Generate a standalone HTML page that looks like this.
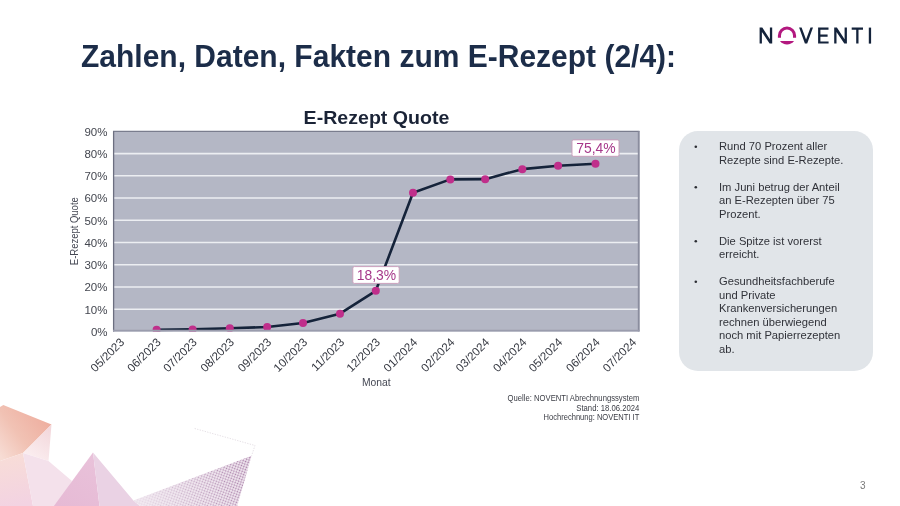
<!DOCTYPE html>
<html><head><meta charset="utf-8">
<style>
html,body{margin:0;padding:0;background:#fff;}
body{width:900px;height:506px;overflow:hidden;position:relative;font-family:"Liberation Sans",sans-serif;}
svg{position:absolute;left:0;top:0;will-change:transform;}
svg text{font-family:"Liberation Sans",sans-serif;}
.title{will-change:transform;transform:scaleY(1.03);transform-origin:0 29.4px;position:absolute;left:81px;top:37.2px;font-size:30px;font-weight:bold;color:#1c2d49;white-space:nowrap;line-height:40px;}
.box{position:absolute;left:679px;top:131.3px;width:194px;height:239.5px;border-radius:19px;background:#e1e5e9;}
.txt{position:absolute;left:0;top:0;font-size:11.2px;line-height:13.5px;color:#2a2c33;}
.b{position:absolute;left:695px;font-size:11.2px;color:#2a2c33;}
.pg{position:absolute;left:860px;top:479.5px;font-size:10px;color:#7a7a7a;}
</style></head><body>
<svg width="900" height="506" viewBox="0 0 900 506">
<defs>
<clipPath id="pc"><rect x="113" y="131.3" width="526.5" height="200.2"/></clipPath>
</defs>
<rect x="113.0" y="131.3" width="526.5" height="200.2" fill="#b4b7c5"/>
<line x1="113.0" y1="309.26" x2="639.5" y2="309.26" stroke="#eceef2" stroke-width="1.6"/>
<line x1="113.0" y1="287.02" x2="639.5" y2="287.02" stroke="#eceef2" stroke-width="1.6"/>
<line x1="113.0" y1="264.78" x2="639.5" y2="264.78" stroke="#eceef2" stroke-width="1.6"/>
<line x1="113.0" y1="242.54" x2="639.5" y2="242.54" stroke="#eceef2" stroke-width="1.6"/>
<line x1="113.0" y1="220.30" x2="639.5" y2="220.30" stroke="#eceef2" stroke-width="1.6"/>
<line x1="113.0" y1="198.06" x2="639.5" y2="198.06" stroke="#eceef2" stroke-width="1.6"/>
<line x1="113.0" y1="175.82" x2="639.5" y2="175.82" stroke="#eceef2" stroke-width="1.6"/>
<line x1="113.0" y1="153.58" x2="639.5" y2="153.58" stroke="#eceef2" stroke-width="1.6"/>
<line x1="113.0" y1="131.3" x2="639.5" y2="131.3" stroke="#7a7d8e" stroke-width="1.2"/>
<line x1="113.6" y1="131.3" x2="113.6" y2="331.5" stroke="#6c6f80" stroke-width="1.3"/>
<line x1="638.7" y1="131.3" x2="638.7" y2="331.5" stroke="#8a8d9e" stroke-width="1.8"/>
<text x="107.5" y="335.90" text-anchor="end" font-size="11.5" fill="#43464f">0%</text>
<text x="107.5" y="313.66" text-anchor="end" font-size="11.5" fill="#43464f">10%</text>
<text x="107.5" y="291.42" text-anchor="end" font-size="11.5" fill="#43464f">20%</text>
<text x="107.5" y="269.18" text-anchor="end" font-size="11.5" fill="#43464f">30%</text>
<text x="107.5" y="246.94" text-anchor="end" font-size="11.5" fill="#43464f">40%</text>
<text x="107.5" y="224.70" text-anchor="end" font-size="11.5" fill="#43464f">50%</text>
<text x="107.5" y="202.46" text-anchor="end" font-size="11.5" fill="#43464f">60%</text>
<text x="107.5" y="180.22" text-anchor="end" font-size="11.5" fill="#43464f">70%</text>
<text x="107.5" y="157.98" text-anchor="end" font-size="11.5" fill="#43464f">80%</text>
<text x="107.5" y="135.74" text-anchor="end" font-size="11.5" fill="#43464f">90%</text>
<g clip-path="url(#pc)">
<polyline points="156.60,329.83 192.60,329.39 229.80,328.28 267.20,327.05 303.00,323.05 340.00,313.71 375.80,290.80 413.00,192.72 450.30,179.38 485.20,179.16 522.30,169.15 558.10,165.81 595.50,163.81" fill="none" stroke="#15233a" stroke-width="2.6" stroke-linejoin="round"/>
<circle cx="156.60" cy="329.83" r="4.0" fill="#c02f8b"/>
<circle cx="192.60" cy="329.39" r="4.0" fill="#c02f8b"/>
<circle cx="229.80" cy="328.28" r="4.0" fill="#c02f8b"/>
<circle cx="267.20" cy="327.05" r="4.0" fill="#c02f8b"/>
<circle cx="303.00" cy="323.05" r="4.0" fill="#c02f8b"/>
<circle cx="340.00" cy="313.71" r="4.0" fill="#c02f8b"/>
<circle cx="375.80" cy="290.80" r="4.0" fill="#c02f8b"/>
<circle cx="413.00" cy="192.72" r="4.0" fill="#c02f8b"/>
<circle cx="450.30" cy="179.38" r="4.0" fill="#c02f8b"/>
<circle cx="485.20" cy="179.16" r="4.0" fill="#c02f8b"/>
<circle cx="522.30" cy="169.15" r="4.0" fill="#c02f8b"/>
<circle cx="558.10" cy="165.81" r="4.0" fill="#c02f8b"/>
<circle cx="595.50" cy="163.81" r="4.0" fill="#c02f8b"/>
</g>
<line x1="113.0" y1="330.6" x2="639.5" y2="330.6" stroke="#9a9cad" stroke-width="1.6"/>
<rect x="352.8" y="266.6" width="46.39999999999998" height="16.799999999999955" rx="1.5" fill="#ffffff" stroke="#c99ab9" stroke-width="0.9"/>
<text x="376.50" y="280.40" text-anchor="middle" font-size="13.9" fill="#a6378a">18,3%</text>
<rect x="572.0" y="139.9" width="47.0" height="16.400000000000006" rx="1.5" fill="#ffffff" stroke="#c99ab9" stroke-width="0.9"/>
<text x="596.00" y="153.30" text-anchor="middle" font-size="13.9" fill="#a6378a">75,4%</text>
<text x="125.00" y="343.00" text-anchor="end" font-size="11.6" fill="#33363f" transform="rotate(-45 125.00 343.00)">05/2023</text>
<text x="161.60" y="343.00" text-anchor="end" font-size="11.6" fill="#33363f" transform="rotate(-45 161.60 343.00)">06/2023</text>
<text x="197.60" y="343.00" text-anchor="end" font-size="11.6" fill="#33363f" transform="rotate(-45 197.60 343.00)">07/2023</text>
<text x="234.80" y="343.00" text-anchor="end" font-size="11.6" fill="#33363f" transform="rotate(-45 234.80 343.00)">08/2023</text>
<text x="272.20" y="343.00" text-anchor="end" font-size="11.6" fill="#33363f" transform="rotate(-45 272.20 343.00)">09/2023</text>
<text x="308.00" y="343.00" text-anchor="end" font-size="11.6" fill="#33363f" transform="rotate(-45 308.00 343.00)">10/2023</text>
<text x="345.00" y="343.00" text-anchor="end" font-size="11.6" fill="#33363f" transform="rotate(-45 345.00 343.00)">11/2023</text>
<text x="380.80" y="343.00" text-anchor="end" font-size="11.6" fill="#33363f" transform="rotate(-45 380.80 343.00)">12/2023</text>
<text x="418.00" y="343.00" text-anchor="end" font-size="11.6" fill="#33363f" transform="rotate(-45 418.00 343.00)">01/2024</text>
<text x="455.30" y="343.00" text-anchor="end" font-size="11.6" fill="#33363f" transform="rotate(-45 455.30 343.00)">02/2024</text>
<text x="490.20" y="343.00" text-anchor="end" font-size="11.6" fill="#33363f" transform="rotate(-45 490.20 343.00)">03/2024</text>
<text x="527.30" y="343.00" text-anchor="end" font-size="11.6" fill="#33363f" transform="rotate(-45 527.30 343.00)">04/2024</text>
<text x="563.10" y="343.00" text-anchor="end" font-size="11.6" fill="#33363f" transform="rotate(-45 563.10 343.00)">05/2024</text>
<text x="600.50" y="343.00" text-anchor="end" font-size="11.6" fill="#33363f" transform="rotate(-45 600.50 343.00)">06/2024</text>
<text x="637.05" y="343.00" text-anchor="end" font-size="11.6" fill="#33363f" transform="rotate(-45 637.05 343.00)">07/2024</text>
<text x="362" y="385.7" font-size="11" textLength="28.7" lengthAdjust="spacingAndGlyphs" fill="#454854">Monat</text>
<text x="0" y="0" font-size="11" textLength="68" lengthAdjust="spacingAndGlyphs" fill="#454854" transform="translate(78.2 265.2) rotate(-90)">E-Rezept Quote</text>
<text x="303.6" y="124" font-size="18.6" font-weight="bold" textLength="145.8" lengthAdjust="spacingAndGlyphs" fill="#1a2336">E-Rezept Quote</text>
<text x="639.3" y="400.7" text-anchor="end" font-size="9" textLength="131.7" lengthAdjust="spacingAndGlyphs" fill="#3a3c44">Quelle: NOVENTI Abrechnungssystem</text>
<text x="639.3" y="410.7" text-anchor="end" font-size="9" textLength="63" lengthAdjust="spacingAndGlyphs" fill="#3a3c44">Stand: 18.06.2024</text>
<text x="639.3" y="420.2" text-anchor="end" font-size="9" textLength="95.7" lengthAdjust="spacingAndGlyphs" fill="#3a3c44">Hochrechnung: NOVENTI IT</text>
</svg>
<div class="title">Zahlen, Daten, Fakten zum E-Rezept (2/4):</div>
<div class="box"></div>
<svg width="900" height="506" viewBox="0 0 900 506">
<text x="719" y="150.30" font-size="11.2" fill="#303239">Rund 70 Prozent aller</text>
<circle cx="695.8" cy="146.70" r="1.3" fill="#2b2d33"/>
<text x="719" y="163.80" font-size="11.2" fill="#303239">Rezepte sind E-Rezepte.</text>
<text x="719" y="190.80" font-size="11.2" fill="#303239">Im Juni betrug der Anteil</text>
<circle cx="695.8" cy="187.20" r="1.3" fill="#2b2d33"/>
<text x="719" y="204.30" font-size="11.2" fill="#303239">an E-Rezepten über 75</text>
<text x="719" y="217.80" font-size="11.2" fill="#303239">Prozent.</text>
<text x="719" y="244.80" font-size="11.2" fill="#303239">Die Spitze ist vorerst</text>
<circle cx="695.8" cy="241.20" r="1.3" fill="#2b2d33"/>
<text x="719" y="258.30" font-size="11.2" fill="#303239">erreicht.</text>
<text x="719" y="285.30" font-size="11.2" fill="#303239">Gesundheitsfachberufe</text>
<circle cx="695.8" cy="281.70" r="1.3" fill="#2b2d33"/>
<text x="719" y="298.80" font-size="11.2" fill="#303239">und Private</text>
<text x="719" y="312.30" font-size="11.2" fill="#303239">Krankenversicherungen</text>
<text x="719" y="325.80" font-size="11.2" fill="#303239">rechnen überwiegend</text>
<text x="719" y="339.30" font-size="11.2" fill="#303239">noch mit Papierrezepten</text>
<text x="719" y="352.80" font-size="11.2" fill="#303239">ab.</text>
<g fill="#14233b">
<polygon points="759.6,43.6 759.6,27.5 762.3,27.5 769.9,39.2 769.9,27.5 772.2,27.5 772.2,43.6 769.6,43.6 761.9,31.9 761.9,43.6"/>
<polygon points="799.1,27.6 801.6,27.6 806.05,39.6 810.5,27.6 813.0,27.6 807.2,43.6 804.9,43.6"/>
<polygon points="818.1,27.6 828.5,27.6 828.5,29.8 820.4,29.8 820.4,34.6 827.6,34.6 827.6,36.8 820.4,36.8 820.4,41.4 828.6,41.4 828.6,43.6 818.1,43.6"/>
<polygon points="834.2,43.6 834.2,27.5 836.9,27.5 844.6,39.2 844.6,27.5 846.9,27.5 846.9,43.6 844.3,43.6 836.5,31.9 836.5,43.6"/>
<polygon points="851.7,27.6 863.0,27.6 863.0,29.8 858.5,29.8 858.5,43.6 856.2,43.6 856.2,29.8 851.7,29.8"/>
<rect x="868.8" y="27.6" width="2.3" height="16.0"/>
</g>
<path d="M779.45 37.7 V35.6 A7.55 7.55 0 0 1 794.55 35.6 V37.7" fill="none" stroke="#b3187f" stroke-width="3.1"/>
<path d="M779.9 41.0 H794.1 A9.1 9.1 0 0 1 779.9 41.0 Z" fill="#b3187f"/>

<defs>
<linearGradient id="g1" gradientUnits="userSpaceOnUse" x1="50" y1="422" x2="2" y2="458">
<stop offset="0" stop-color="#eeae9f"/><stop offset="0.55" stop-color="#f1c2b4"/><stop offset="1" stop-color="#f7dcd4"/>
</linearGradient>
<linearGradient id="g2" gradientUnits="userSpaceOnUse" x1="0" y1="455" x2="10" y2="506">
<stop offset="0" stop-color="#f8ddd7"/><stop offset="1" stop-color="#f3d3e2"/>
</linearGradient>
<linearGradient id="g3" gradientUnits="userSpaceOnUse" x1="50" y1="430" x2="30" y2="458">
<stop offset="0" stop-color="#f3d8dc"/><stop offset="1" stop-color="#fbeef0"/>
</linearGradient>
<linearGradient id="g4" gradientUnits="userSpaceOnUse" x1="140" y1="500" x2="251" y2="470">
<stop offset="0" stop-color="#f1e6ef"/><stop offset="1" stop-color="#d3b6d2"/>
</linearGradient>
<linearGradient id="g5" gradientUnits="userSpaceOnUse" x1="95" y1="452" x2="60" y2="506">
<stop offset="0" stop-color="#e9c2da"/><stop offset="1" stop-color="#e6bad5"/>
</linearGradient>
</defs>
<polygon points="0,407 3.3,404.9 51.5,424.6 23,453 0,461" fill="url(#g1)"/>
<polygon points="0,461 23,453 33,506 0,506" fill="url(#g2)"/>
<polygon points="51.5,424.6 48.5,461 23,453" fill="url(#g3)"/>
<polygon points="23,453 48.5,461 72,481 58,506 33,506" fill="#f4e1eb"/>
<polygon points="93,452.4 53.9,506 99.5,506" fill="url(#g5)"/>
<polygon points="93,452.4 133.4,500.6 140,506 99.5,506" fill="#ead2e4"/>
<pattern id="dots" width="2.6" height="2.6" patternUnits="userSpaceOnUse" patternTransform="rotate(20)">
<circle cx="1.3" cy="1.3" r="0.85" fill="#a072a0"/></pattern>
<linearGradient id="gm" gradientUnits="userSpaceOnUse" x1="140" y1="500" x2="251" y2="470">
<stop offset="0" stop-color="#fff" stop-opacity="0.15"/><stop offset="1" stop-color="#fff" stop-opacity="1"/></linearGradient>
<mask id="mm"><polygon points="133.4,500.6 251.6,455.7 237.2,506 140,506" fill="url(#gm)"/></mask>
<polygon points="133.4,500.6 251.6,455.7 237.2,506 140,506" fill="#f3ebf2"/>
<rect x="130" y="450" width="125" height="56" fill="url(#dots)" mask="url(#mm)"/>
<polyline points="194.7,428.5 255,445.5 251.6,455.7" fill="none" stroke="#dcd4dc" stroke-width="0.8" stroke-dasharray="1.2 1.4"/>

</svg>
<div class="pg">3</div>
</body></html>
